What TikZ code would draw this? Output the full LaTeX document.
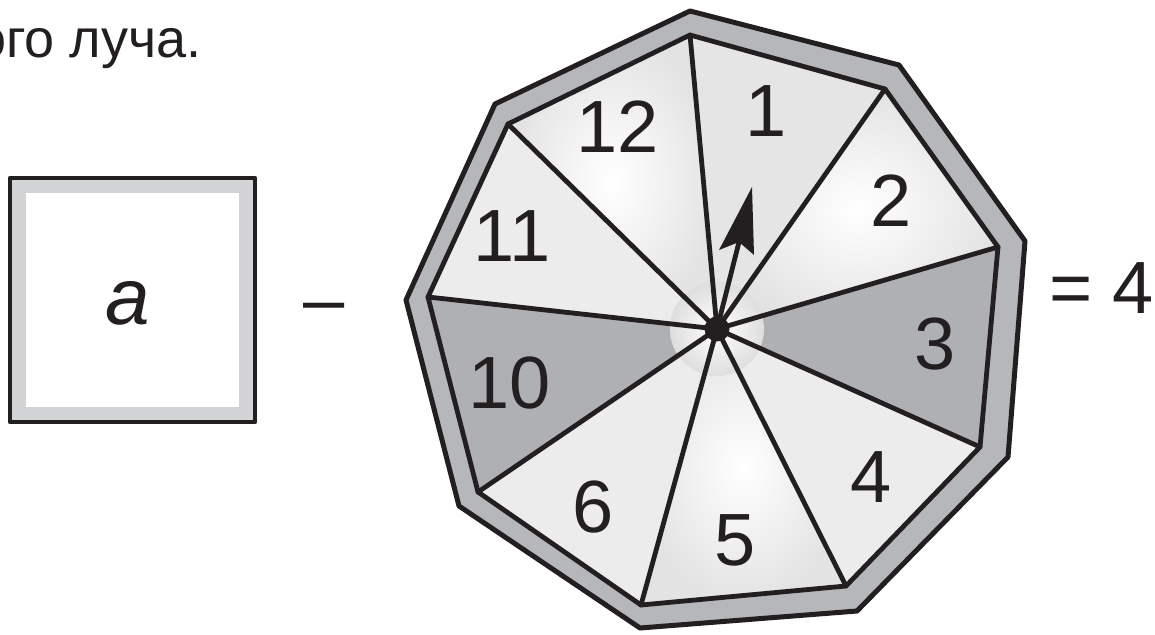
\documentclass[tikz,border=0pt]{standalone}
\usepackage{fontspec}
\setmainfont{Liberation Sans}
\usetikzlibrary{calc}
\definecolor{band}{HTML}{B6B7BA}
\definecolor{darksec}{HTML}{AFB0B3}
\definecolor{litesec}{HTML}{ECECED}
\definecolor{sqgray}{HTML}{D1D3D4}
\definecolor{ink}{HTML}{231F20}
\begin{document}
\begin{tikzpicture}[x=1pt,y=-1pt,line join=round,
  edge/.style={draw=ink,line width=4.8pt},
  num/.style={font=\fontsize{74}{74}\selectfont,inner sep=0pt,text=ink},
  whitesec/.style={inner color=white,outer color=black!11},
]
\useasboundingbox (0,0) rectangle (1155,634);
% top text line (cut at the left)
\node[anchor=base west,inner sep=0pt,text=ink,font=\fontsize{54}{54}\selectfont] (txt) at (-24,58) {ого луча.};
% square with a
\draw[draw=ink,line width=4.4pt,fill=sqgray] (10,178) rectangle (255,422);
\fill[white] (26,193) rectangle (239,407);
\node[inner sep=0pt,text=ink,font=\fontsize{80}{80}\selectfont\itshape] (a) at (128,303) {a};
% minus
\node[anchor=base,inner sep=0pt,text=ink,font=\fontsize{74}{74}\selectfont] (minus) at (324,324) {–};
% equals 4
\node[anchor=base west,inner sep=0pt,text=ink,font=\fontsize{74}{74}\selectfont] (eq) at (1049,313) {= 4};
% wheel geometry
\coordinate (H) at (717,329);
\coordinate (O1) at (690,11);
\coordinate (O2) at (899,65);
\coordinate (O3) at (1025,241);
\coordinate (O4) at (1008,457);
\coordinate (O5) at (857,611);
\coordinate (O6) at (640,628);
\coordinate (O7) at (459,506);
\coordinate (O8) at (406,300);
\coordinate (O9) at (495,104);
\coordinate (I1) at (690,35);
\coordinate (I2) at (885,89);
\coordinate (I3) at (998,247);
\coordinate (I4) at (980,447);
\coordinate (I5) at (846,586);
\coordinate (I6) at (641,605);
\coordinate (I7) at (478,492);
\coordinate (I8) at (428,297);
\coordinate (I9) at (508,124);
% outer rim
\draw[draw=ink,line width=5pt,fill=band] (O1)--(O2)--(O3)--(O4)--(O5)--(O6)--(O7)--(O8)--(O9)--cycle;
% sectors
\fill[litesec!97!black] (H)--(I1)--(I2)--cycle;
\shade[whitesec] (H)--(I2)--(I3)--cycle;
\fill[darksec] (H)--(I3)--(I4)--cycle;
\fill[litesec] (H)--(I4)--(I5)--cycle;
\shade[whitesec] (H)--(I5)--(I6)--cycle;
\fill[litesec] (H)--(I6)--(I7)--cycle;
\fill[darksec] (H)--(I7)--(I8)--cycle;
\fill[litesec] (H)--(I8)--(I9)--cycle;
\shade[whitesec] (H)--(I9)--(I1)--cycle;
% light disc round the hub
\shade[inner color=white,outer color=black!13] (H) circle (47);
% spokes and inner rim
\foreach \v in {I1,I2,I3,I4,I5,I6,I7,I8,I9} \draw[edge,line cap=round] (H)--(\v);
\draw[edge] (I1)--(I2)--(I3)--(I4)--(I5)--(I6)--(I7)--(I8)--(I9)--cycle;
% arrow
\coordinate (T) at (752,187);
\coordinate (L) at (719,250);
\coordinate (N) at (739,242);
\coordinate (R) at (754,255);
\draw[edge] (H)--(N);
\fill[ink] (T)--(L)--(N)--(R)--cycle;
\fill[ink] (H) circle (12.5);
% labels
\node[num] (n1) at (766,111) {1};
\node[num] (n2) at (891,201) {2};
\node[num] (n3) at (935,344) {3};
\node[num] (n4) at (871,477) {4};
\node[num] (n5) at (735,540) {5};
\node[num] (n6) at (593,507) {6};
\node[num] (n10) at (510,383) {10};
\node[num] (n11) at (512,236) {11};
\node[num] (n12) at (618,127) {12};
\end{tikzpicture}
\end{document}
